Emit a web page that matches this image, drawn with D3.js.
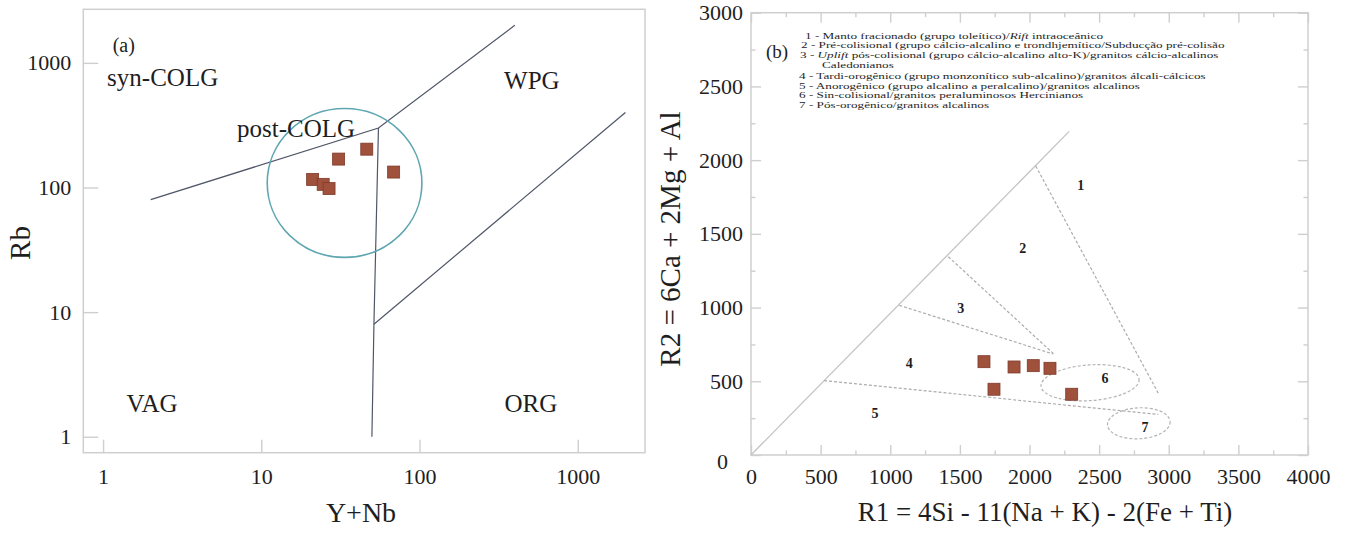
<!DOCTYPE html>
<html>
<head>
<meta charset="utf-8">
<script src="https://cdn.jsdelivr.net/npm/d3@7"></script>
<style>
  html, body { margin: 0; padding: 0; background: #fff; }
  svg { display: block; }
  svg text { font-family: "Liberation Serif", "Times New Roman", serif !important; fill: #1e1e1e; }
</style>
</head>
<body>
<svg id="chart" width="1346" height="533" font-family="Liberation Serif, serif"></svg>
<script>
// ---------------- DATA ----------------
// Panel (a): Rb vs Y+Nb (Pearce et al. 1984)
const aTicks = [1, 10, 100, 1000];
const aSampleYNb = [21.1, 24.6, 26.8, 30.8, 46.4, 68.6];
const aSampleRb  = [116, 106, 98, 169, 203, 133];
const aBoundaryLines = [
  [[2, 80], [55, 300], [400, 2000]],
  [[55, 300], [51.5, 8], [50, 1]],
  [[51.5, 8], [2000, 400]]
];
const aFieldNames = ["syn-COLG", "post-COLG", "WPG", "VAG", "ORG"];
const aFieldAnchors = [[2.38, 653], [16.6, 254], [513, 617], [2.04, 1.58], [506, 1.58]];
const aCircleExtent = { xMin: 10.9, xMax: 103.5, yMin: 27.5, yMax: 430 };

// Panel (b): R1-R2 (Batchelor & Bowden 1985)
const bXTicks = [0, 500, 1000, 1500, 2000, 2500, 3000, 3500, 4000];
const bYTicks = [0, 500, 1000, 1500, 2000, 2500, 3000];
const bSampleR1 = [1673, 1889, 2027, 2147, 1745, 2303];
const bSampleR2 = [633, 597, 606, 588, 446, 412];
const bSolidLine = [[0, 0], [2285, 2195]];
const bDashedLines = [
  [[2045, 1960], [2930, 410]],
  [[1417, 1345], [2180, 680]],
  [[1065, 1015], [2170, 685]],
  [[525, 505], [2925, 275]]
];
const bEllipses = [
  { cx: 2435, cy: 490, rx: 353, ry: 121, rot: -4 },
  { cx: 2785, cy: 215, rx: 225, ry: 105, rot: -3 }
];
const bFieldNumbers = ["1", "2", "3", "4", "5", "6", "7"];
const bFieldAnchors = [[2368, 1831], [1951, 1406], [1506, 999], [1137, 622], [890, 283], [2542, 524], [2829, 188]];
const bLegend = [
  "1 - Manto fracionado (grupo toleítico)/Rift intraoceânico",
  "2 - Pré-colisional (grupo cálcio-alcalino e trondhjemítico/Subducção pré-colisão",
  "3 - Uplift pós-colisional (grupo cálcio-alcalino alto-K)/granitos cálcio-alcalinos",
  "Caledonianos",
  "4 - Tardi-orogênico (grupo monzonítico sub-alcalino)/granitos álcali-cálcicos",
  "5 - Anorogênico (grupo alcalino a peralcalino)/granitos alcalinos",
  "6 - Sin-colisional/granitos peraluminosos Hercinianos",
  "7 - Pós-orogênico/granitos alcalinos"
];
const italicWords = ["Rift", "Uplift"];

// ---------------- STYLE ----------------
const FONT = "'Liberation Serif', 'Times New Roman', serif";
const markerFill = "#a0513c", markerStroke = "#7d3b2b";
const frameColor = "#cfcfcf";
const svg = d3.select("#chart");

// ================= PANEL (a) =================
const A = { left: 83.3, right: 645, top: 9.3, bottom: 452.7 };
const xa = d3.scaleLog().domain([0.75, 2660]).range([A.left, A.right]);
const ya = d3.scaleLog().domain([0.745, 2690]).range([A.bottom, A.top]);
const ga = svg.append("g");

ga.append("rect").attr("x", A.left).attr("y", A.top)
  .attr("width", A.right - A.left).attr("height", A.bottom - A.top)
  .attr("fill", "none").attr("stroke", frameColor).attr("stroke-width", 1.5);

function styleAx(ax) {
  ax.attr("font-family", FONT);
  ax.select(".domain").remove();
  ax.selectAll(".tick line").attr("stroke", frameColor).attr("stroke-width", 1.4);
  ax.selectAll(".tick text").style("font-family", FONT)
    .style("font-size", "22px").attr("fill", "#1e1e1e");
}
const axA_x = ga.append("g").attr("transform", `translate(0,${A.bottom})`)
  .call(d3.axisBottom(xa).tickValues(aTicks).tickFormat(d3.format("d"))
        .tickSizeInner(-13).tickSizeOuter(0).tickPadding(16));
const axA_y = ga.append("g").attr("transform", `translate(${A.left},0)`)
  .call(d3.axisLeft(ya).tickValues(aTicks).tickFormat(d3.format("d"))
        .tickSizeInner(-15).tickSizeOuter(0).tickPadding(12));
styleAx(axA_x); styleAx(axA_y);

const lineA = d3.line().x(d => xa(d[0])).y(d => ya(d[1]));
ga.selectAll(".bnd").data(aBoundaryLines).enter().append("path")
  .attr("d", lineA).attr("fill", "none").attr("stroke", "#4f5668").attr("stroke-width", 1.2);

// circle
const ccx = (xa(aCircleExtent.xMin) + xa(aCircleExtent.xMax)) / 2;
const ccy = (ya(aCircleExtent.yMin) + ya(aCircleExtent.yMax)) / 2;
ga.append("ellipse").attr("cx", ccx).attr("cy", ccy)
  .attr("rx", (xa(aCircleExtent.xMax) - xa(aCircleExtent.xMin)) / 2)
  .attr("ry", (ya(aCircleExtent.yMin) - ya(aCircleExtent.yMax)) / 2)
  .attr("fill", "none").attr("stroke", "#5ea6b0").attr("stroke-width", 1.6);

ga.selectAll(".fld").data(aFieldNames).enter().append("text")
  .attr("x", (d, i) => xa(aFieldAnchors[i][0])).attr("y", (d, i) => ya(aFieldAnchors[i][1]))
  .attr("text-anchor", "middle").style("font-family", FONT).style("font-size", "25px").text(d => d);

ga.append("text").attr("x", xa(1.15)).attr("y", ya(1222)).style("font-family", FONT).style("font-size", "20px").text("(a)");

const ms = 12;
ga.selectAll(".mk").data(aSampleYNb).enter().append("rect")
  .attr("x", (d) => xa(d) - ms / 2).attr("y", (d, i) => ya(aSampleRb[i]) - ms / 2)
  .attr("width", ms).attr("height", ms)
  .attr("fill", markerFill).attr("stroke", markerStroke).attr("stroke-width", 0.8);

ga.append("text").attr("x", 361).attr("y", 522).attr("text-anchor", "middle")
  .style("font-family", FONT).style("font-size", "28px").text("Y+Nb");
ga.append("text").attr("transform", "translate(30,243) rotate(-90)").attr("text-anchor", "middle")
  .style("font-family", FONT).style("font-size", "29px").text("Rb");

// ================= PANEL (b) =================
const B = { left: 751, right: 1308, top: 12.7, bottom: 455 };
const xb = d3.scaleLinear().domain([0, 4000]).range([B.left, B.right]);
const yb = d3.scaleLinear().domain([0, 3000]).range([B.bottom, B.top]);
const gb = svg.append("g");

gb.append("rect").attr("x", B.left).attr("y", B.top)
  .attr("width", B.right - B.left).attr("height", B.bottom - B.top)
  .attr("fill", "none").attr("stroke", frameColor).attr("stroke-width", 1.5);

const xMinor = d3.range(250, 4000, 500);
const yMinor = d3.range(250, 3000, 500);
const bxAx = gb.append("g").attr("transform", `translate(0,${B.bottom})`)
  .call(d3.axisBottom(xb).tickValues(bXTicks).tickFormat(d3.format("d")).tickSizeInner(-10).tickSizeOuter(0).tickPadding(13.5));
styleAx(bxAx);
const byAx = gb.append("g").attr("transform", `translate(${B.left},0)`)
  .call(d3.axisLeft(yb).tickValues(bYTicks).tickFormat(d3.format("d")).tickSizeInner(-10).tickSizeOuter(0).tickPadding(8));
styleAx(byAx);
byAx.selectAll(".tick").filter(d => d === 0).select("text").attr("transform", "translate(-15,6)");
const tAx = gb.append("g").attr("transform", `translate(0,${B.top})`)
  .call(d3.axisTop(xb).tickValues(bXTicks).tickFormat("").tickSizeInner(-10).tickSizeOuter(0));
styleAx(tAx);
const rAx = gb.append("g").attr("transform", `translate(${B.right},0)`)
  .call(d3.axisRight(yb).tickValues(bYTicks).tickFormat("").tickSizeInner(-10).tickSizeOuter(0));
styleAx(rAx);
[[d3.axisBottom, xb, xMinor, B.bottom, true], [d3.axisTop, xb, xMinor, B.top, true],
 [d3.axisLeft, yb, yMinor, B.left, false], [d3.axisRight, yb, yMinor, B.right, false]].forEach(([f, s, v, pos, horiz]) => {
  const g = gb.append("g").attr("transform", horiz ? `translate(0,${pos})` : `translate(${pos},0)`)
    .call(f(s).tickValues(v).tickFormat("").tickSizeInner(-4.5).tickSizeOuter(0));
  styleAx(g);
});

const lineB = d3.line().x(d => xb(d[0])).y(d => yb(d[1]));
gb.append("path").datum(bSolidLine).attr("d", lineB).attr("fill", "none")
  .attr("stroke", "#c4c4c4").attr("stroke-width", 1.3);
gb.selectAll(".dl").data(bDashedLines).enter().append("path").attr("d", lineB)
  .attr("fill", "none").attr("stroke", "#acacac").attr("stroke-width", 1.2).attr("stroke-dasharray", "3,2");
gb.selectAll(".el").data(bEllipses).enter().append("ellipse")
  .attr("cx", d => xb(d.cx)).attr("cy", d => yb(d.cy))
  .attr("rx", d => xb(d.cx + d.rx) - xb(d.cx)).attr("ry", d => yb(d.cy) - yb(d.cy + d.ry))
  .attr("transform", d => `rotate(${d.rot},${xb(d.cx)},${yb(d.cy)})`)
  .attr("fill", "none").attr("stroke", "#b4b4b4").attr("stroke-width", 1.2).attr("stroke-dasharray", "3,2");

gb.selectAll(".num").data(bFieldNumbers).enter().append("text")
  .attr("x", (d, i) => xb(bFieldAnchors[i][0])).attr("y", (d, i) => yb(bFieldAnchors[i][1]))
  .attr("dy", "0.35em").attr("text-anchor", "middle")
  .style("font-family", FONT).style("font-size", "14px").style("font-weight", "bold").attr("fill", "#333").text(d => d);

gb.selectAll(".mkb").data(bSampleR1).enter().append("rect")
  .attr("x", d => xb(d) - ms / 2).attr("y", (d, i) => yb(bSampleR2[i]) - ms / 2)
  .attr("width", ms).attr("height", ms)
  .attr("fill", markerFill).attr("stroke", markerStroke).attr("stroke-width", 0.8);

// legend
gb.append("text").attr("x", 766).attr("y", 58).style("font-family", FONT).style("font-size", "19px").text("(b)");
const legY = [38.5, 48.2, 57.6, 68.2, 79.3, 88.5, 98.3, 107.6];
const legX = [805, 801, 800, 822, 799, 799, 799, 799];
bLegend.forEach((s, i) => {
  const t = gb.append("text").attr("transform", `translate(${legX[i]},${legY[i]}) scale(1.2,0.8)`)
    .style("font-family", FONT).style("font-size", "11px").attr("fill", "#333");
  const parts = s.split(new RegExp(`(${italicWords.join("|")})`));
  parts.forEach(p => {
    if (!p) return;
    const sp = t.append("tspan").text(p);
    if (italicWords.includes(p)) sp.style("font-style", "italic");
  });
});

gb.append("text").attr("x", 1045).attr("y", 521).attr("text-anchor", "middle")
  .style("font-family", FONT).style("font-size", "27px").text("R1 = 4Si - 11(Na + K) - 2(Fe + Ti)");
gb.append("text").attr("transform", "translate(680,239) rotate(-90)").attr("text-anchor", "middle")
  .style("font-family", FONT).style("font-size", "29px").text("R2 = 6Ca + 2Mg + Al");
</script>
</body>
</html>
